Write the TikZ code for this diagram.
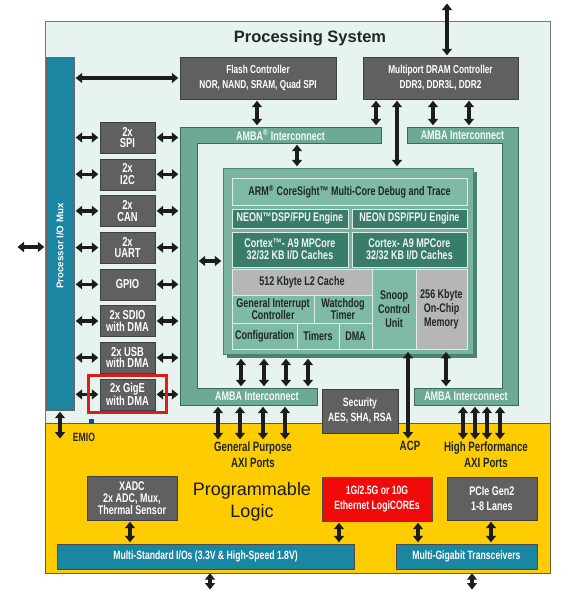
\documentclass[tikz,border=0pt]{standalone}
\usepackage{fontspec}
\setmainfont{Liberation Sans}
\newfontfamily\condfont[FakeStretch=0.72]{Liberation Sans}
\usetikzlibrary{arrows.meta}
\definecolor{psback}{RGB}{231,243,240}
\definecolor{psline}{RGB}{120,120,120}
\definecolor{plyellow}{RGB}{255,204,0}
\definecolor{plline}{RGB}{100,92,60}
\definecolor{boxgray}{RGB}{96,96,96}
\definecolor{muxblue}{RGB}{26,134,162}
\definecolor{ambateal}{RGB}{108,170,149}
\definecolor{ambaline}{RGB}{62,104,90}
\definecolor{corefill}{RGB}{122,180,160}
\definecolor{coreshade}{RGB}{74,132,113}
\definecolor{litteal}{RGB}{126,186,165}
\definecolor{darkteal}{RGB}{58,124,106}
\definecolor{cachegray}{RGB}{182,182,182}
\definecolor{ethred}{RGB}{240,10,10}
\definecolor{hilite}{RGB}{222,28,28}
\definecolor{arrowblack}{RGB}{28,28,28}
\definecolor{darktext}{RGB}{30,40,36}
\tikzset{
  biarrow/.style={draw=arrowblack, line width=3.2pt,
    {Triangle[width=10pt,length=6.5pt]}-{Triangle[width=10pt,length=6.5pt]},
    shorten <=1.5pt, shorten >=1.5pt},
  graybox/.style={draw=black!75, fill=boxgray, text=white, align=center, inner sep=0pt,
    font=\condfont\bfseries\fontsize{11.5}{15}\selectfont},
  periph/.style={graybox, minimum width=55, minimum height=31,
    font=\condfont\bfseries\fontsize{13}{11.5}\selectfont},
  cell/.style={draw=white!75!corefill, line width=0.8pt, align=center, inner sep=0pt,
    font=\condfont\bfseries\fontsize{12.5}{12}\selectfont},
  litecell/.style={cell, fill=litteal, text=darktext},
  darkcell/.style={cell, fill=darkteal, text=white!92!darkteal},
  graycell/.style={cell, fill=cachegray, text=darktext},
  ambatext/.style={inner sep=0pt, text=white!94!ambateal,
    font=\condfont\bfseries\fontsize{12.5}{12}\selectfont},
  bluebar/.style={draw=black!70, fill=muxblue, text=white, inner sep=0pt,
    font=\condfont\bfseries\fontsize{12}{12}\selectfont},
  plabel/.style={align=center, inner sep=1pt, text=darktext,
    font=\condfont\bfseries\fontsize{13.5}{16}\selectfont}
}
\begin{document}
\begin{tikzpicture}[x=1pt,y=-1pt]
\useasboundingbox[fill=white] (0,0) rectangle (577,598);
% the two halves of the device
\node[draw=psline, fill=psback, minimum width=505, minimum height=402] (ps) at (297.5,222) {};
\node[draw=plline, fill=plyellow, minimum width=505, minimum height=150] (pl) at (297.5,498) {};
\node[font=\bfseries\fontsize{16.5}{18}\selectfont, text=black!85] (pstitle) at (310,38) {Processing System};
\node[align=center, font=\fontsize{18}{22}\selectfont, text=black!90] (pltitle) at (252,502) {Programmable\\Logic};
% memory controllers and i/o mux
\node[graybox, minimum width=156, minimum height=42] (flash) at (258,78) {Flash Controller\\NOR, NAND, SRAM, Quad SPI};
\node[graybox, minimum width=155, minimum height=42] (dram) at (440.5,78) {Multiport DRAM Controller\\DDR3, DDR3L, DDR2};
\node[draw=black!60, fill=muxblue, minimum width=28, minimum height=353, inner sep=0pt] (mux) at (60,233.5) {};
\node[rotate=90, text=white, font=\bfseries\fontsize{9.7}{10}\selectfont] (muxlabel) at (60,246) {Processor I/O Mux};
% amba interconnects
\draw[fill=ambateal, draw=ambaline, line width=0.8pt] (381,127) -- (180,127) -- (180,405) -- (317,405) -- (317,388) -- (197,388) -- (197,143) -- (381,143) -- cycle;
\draw[fill=ambateal, draw=ambaline, line width=0.8pt] (407,127) -- (518,127) -- (518,405) -- (414,405) -- (414,388) -- (502,388) -- (502,143) -- (407,143) -- cycle;
\node[ambatext, minimum width=201, minimum height=16] (ambaLt) at (280.5,135) {AMBA\textsuperscript{®} Interconnect};
\node[ambatext, minimum width=120, minimum height=17] (ambaLb) at (257,396.5) {AMBA Interconnect};
\node[ambatext, minimum width=111, minimum height=16] (ambaRt) at (462.5,135) {AMBA Interconnect};
\node[ambatext, minimum width=104, minimum height=17] (ambaRb) at (466,396.5) {AMBA Interconnect};
\node[inner sep=0pt, minimum width=17, minimum height=278] (ambaLside) at (188.5,266) {};
% application processor unit
\fill[coreshade] (227,172) rectangle (477,358);
\node[draw=coreshade, fill=corefill, minimum width=250, minimum height=186] (core) at (348,261) {};
\node[litecell, minimum width=235, minimum height=27] (sight) at (349.5,191.5) {ARM\textsuperscript{®} CoreSight\texttrademark\ Multi-Core Debug and Trace};
\node[darkcell, minimum width=116, minimum height=19] (neonA) at (290,218.5) {NEON\texttrademark DSP/FPU Engine};
\node[darkcell, minimum width=115, minimum height=19] (neonB) at (409.5,218.5) {NEON DSP/FPU Engine};
\node[darkcell, minimum width=116, minimum height=35] (cpuA) at (290,249.5) {Cortex\texttrademark- A9 MPCore\\32/32 KB I/D Caches};
\node[darkcell, minimum width=115, minimum height=35] (cpuB) at (409.5,249.5) {Cortex- A9 MPCore\\32/32 KB I/D Caches};
\node[graycell, minimum width=140, minimum height=26] (ltwo) at (302,282) {512 Kbyte L2 Cache};
\node[litecell, minimum width=82, minimum height=28] (gic) at (273,309) {General Interrupt\\Controller};
\node[litecell, minimum width=58, minimum height=28] (wdt) at (343,309) {Watchdog\\Timer};
\node[litecell, minimum width=65, minimum height=26] (config) at (264.5,336) {Configuration};
\node[litecell, minimum width=42, minimum height=26] (timers) at (318,336) {Timers};
\node[litecell, minimum width=33, minimum height=26] (dma) at (355.5,336) {DMA};
\node[litecell, minimum width=44, minimum height=80] (scu) at (394,309) {Snoop\\[2pt]Control\\[2pt]Unit};
\node[graycell, minimum width=51, minimum height=80] (ocm) at (441.5,309) {256 Kbyte\\[2pt]On-Chip\\[2pt]Memory};
% peripherals
\foreach \pn/\pt [count=\k from 0] in {spi/{2x\\SPI}, iic/{2x\\I2C}, can/{2x\\CAN}, uart/{2x\\UART}, gpio/{GPIO}, sdio/{2x SDIO\\with DMA}, usb/{2x USB\\with DMA}, gige/{2x GigE\\with DMA}}
{
  \node[periph] (\pn) at (127.5,{137.5+36.7*\k}) {\pt};
  \draw[biarrow] (mux.east |- \pn.west) -- (\pn.west);
  \draw[biarrow] (\pn.east) -- (\pn.east -| ambaLside.west);
}
\node[draw=hilite, line width=3pt, minimum width=78, minimum height=37] (gigemark) at (127.5,394) {};
\node[fill=blue!65!cyan!80!black, minimum size=5pt, inner sep=0pt] (pin) at (91.5,421.5) {};
\node[graybox, minimum width=76, minimum height=44, font=\condfont\bfseries\fontsize{12}{15}\selectfont] (security) at (360,411) {Security\\AES, SHA, RSA};
% programmable logic blocks
\node[graybox, minimum width=90, minimum height=44, font=\condfont\bfseries\fontsize{12.5}{12}\selectfont] (xadc) at (132,498) {XADC\\2x ADC, Mux,\\Thermal Sensor};
\node[graybox, fill=ethred, draw=black!70, minimum width=110, minimum height=44, font=\condfont\bfseries\fontsize{12}{15}\selectfont] (ether) at (377,499) {1G/2.5G or 10G\\Ethernet LogiCOREs};
\node[graybox, minimum width=90, minimum height=43, font=\condfont\bfseries\fontsize{12.5}{15}\selectfont] (pcie) at (492,498.5) {PCIe Gen2\\1-8 Lanes};
\node[bluebar, minimum width=297, minimum height=25] (msio) at (205.5,556.5) {Multi-Standard I/Os (3.3V \& High-Speed 1.8V)};
\node[bluebar, minimum width=141, minimum height=25] (mgt) at (466.5,556.5) {Multi-Gigabit Transceivers};
% port labels
\node[plabel] (gpaxi) at (253,455) {General Purpose\\AXI Ports};
\node[plabel] (hpaxi) at (486,455) {High Performance\\AXI Ports};
\node[plabel] (acp) at (410,446) {ACP};
\node[plabel, font=\condfont\bfseries\fontsize{12}{12}\selectfont] (emio) at (84,437) {EMIO};
\coordinate (emiopin) at (60,440);
\coordinate (leftpin) at (16,247);
\coordinate (ddrpin) at (447,2);
\coordinate (msiopin) at (210,591);
\coordinate (mgtpin) at (472,591);
% connections
\draw[biarrow] (leftpin) -- (leftpin -| mux.west);
\draw[biarrow] (mux.east |- flash.west) -- (flash.west);
\draw[biarrow] (ddrpin) -- (ddrpin |- dram.north);
\draw[biarrow] (257,0 |- flash.south) -- (257,0 |- ambaLt.north);
\draw[biarrow] (376,0 |- dram.south) -- (376,0 |- ambaLt.north);
\draw[biarrow] (397,0 |- dram.south) -- (397,0 |- core.north);
\foreach \ax in {433,469} \draw[biarrow] (\ax,0 |- dram.south) -- (\ax,0 |- ambaRt.north);
\draw[biarrow] (297,0 |- ambaLt.south) -- (297,0 |- core.north);
\draw[biarrow] (core.west -| ambaLside.east) -- (core.west);
\foreach \ax in {241,264,286,308} \draw[biarrow, shorten <=4.5pt] (\ax,0 |- core.south) -- (\ax,0 |- ambaLb.north);
\foreach \ax in {218,240,263,285} \draw[biarrow] (\ax,0 |- ambaLb.south) -- (\ax,0 |- gpaxi.north);
\draw[biarrow, shorten <=2.5pt] (408,0 |- scu.south) -- (408,0 |- acp.north);
\draw[biarrow, shorten <=2.5pt] (446,0 |- ocm.south) -- (446,0 |- ambaRb.north);
\foreach \ax in {463,475,487,500} \draw[biarrow] (\ax,0 |- ambaRb.south) -- (\ax,0 |- hpaxi.north);
\draw[biarrow] (mux.south) -- (emiopin);
\draw[biarrow] (130,0 |- xadc.south) -- (130,0 |- msio.north);
\draw[biarrow] (339,0 |- ether.south) -- (339,0 |- msio.north);
\draw[biarrow] (418,0 |- ether.south) -- (418,0 |- mgt.north);
\draw[biarrow] (491,0 |- pcie.south) -- (491,0 |- mgt.north);
\draw[biarrow, shorten <=4pt] (210,0 |- msio.south) -- (msiopin);
\draw[biarrow, shorten <=4pt] (472,0 |- mgt.south) -- (mgtpin);
\end{tikzpicture}
\end{document}
